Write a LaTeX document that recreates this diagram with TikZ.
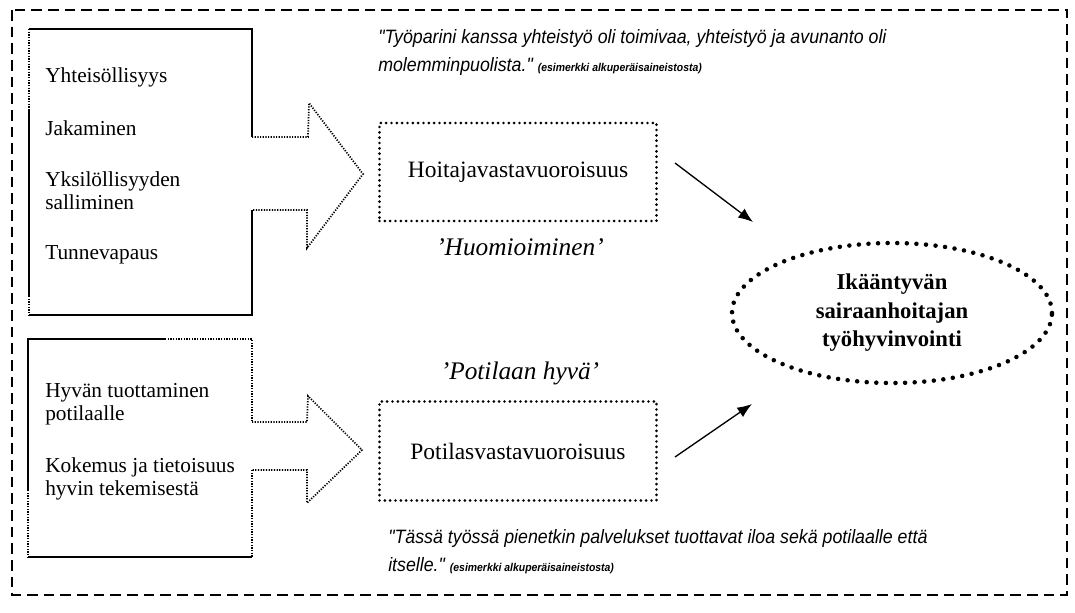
\documentclass[tikz,border=0pt]{standalone}
\usepackage{fontspec}
\setmainfont{Liberation Serif}
\newfontfamily\quotefont[FakeStretch=0.92]{Liberation Sans}
\usetikzlibrary{arrows.meta,shapes.geometric}

\tikzset{
  solidline/.style={line width=1.1pt},
  fineline/.style={line width=1.3pt, dash pattern=on 0.9pt off 1.1pt},
  frameline/.style={line width=1.9pt, dash pattern=on 8pt off 4.5pt},
  dotbox/.style={draw, rectangle, line width=2.2pt, line cap=round, dash pattern=on 0pt off 4pt,
    minimum width=207.75pt, minimum height=73.5pt, inner sep=0pt, font=\fontsize{17.6}{20}\selectfont},
  goal/.style={draw, ellipse, line width=3.4pt, line cap=round, dash pattern=on 0pt off 7.2pt,
    minimum width=240pt, minimum height=105pt, inner sep=0pt, align=center,
    font=\bfseries\fontsize{17}{21.4}\selectfont},
  item/.style={anchor=west, inner sep=0pt, align=left, font=\fontsize{16}{17.5}\selectfont},
  theme/.style={inner sep=0pt, font=\itshape\fontsize{19}{21}\selectfont},
  citation/.style={anchor=north west, inner sep=0pt, align=left, font=\quotefont\itshape\fontsize{14.5}{21}\selectfont},
  pointer/.style={line width=1pt, -{Latex[length=11pt,width=8.5pt]}},
}
\newcommand{\srcnote}{{\bfseries\fontsize{8.5}{10}\selectfont (esimerkki alkuperäisaineistosta)}}

\begin{document}
\begin{tikzpicture}[x=0.75pt,y=0.75pt,yscale=-1,xscale=1]
        \path[use as bounding box] (0,0) rectangle (1075,612);

        %Dashed frame
        \draw [frameline]    (12,10) rectangle (1067,595) ;

        %Upper list box
        \draw [solidline]    (29,29) -- (252,29) -- (252,137) ;
        \draw [solidline]    (252,210) -- (252,315) -- (29,315) ;
        \draw [solidline]    (29,110) -- (29,296) ;
        \draw [fineline]    (29,29) -- (29,110) (29,296) -- (29,315) ;
        %Upper block arrow
        \draw [fineline]    (252,137) -- (308,137) -- (309,103) -- (363,174) -- (307,248) -- (307,210) -- (252,210) ;

        %Lower list box
        \draw [solidline]    (28,490) -- (28,339) -- (165,339) ;
        \draw [solidline]    (28,557) -- (252,557) ;
        \draw [fineline]    (165,339) -- (252,339) -- (252,422) (252,470) -- (252,557) (28,490) -- (28,557) ;
        %Lower block arrow
        \draw [fineline]    (252,422) -- (307,422) -- (308,396) -- (362,450) -- (307,503) -- (307,470) -- (252,470) ;

        % Text Node
        \draw (45,77) node [item] (yhteis) {Yhteisöllisyys};
        % Text Node
        \draw (45,128) node [item] (jakam) {Jakaminen};
        % Text Node
        \draw (45,191) node [item] (yksil) {Yksilöllisyyden\\salliminen};
        % Text Node
        \draw (45,255) node [item] (tunne) {Tunnevapaus};
        % Text Node
        \draw (45,404) node [item] (hyvan) {Hyvän tuottaminen\\potilaalle};
        % Text Node
        \draw (45,479) node [item] (kokem) {Kokemus ja tietoisuus\\hyvin tekemisestä};

        %Middle boxes
        \draw (518,172) node [dotbox] (hoitaja) {Hoitajavastavuoroisuus};
        \draw (518,451) node [dotbox, minimum height=74.25pt] (potilas) {Potilasvastavuoroisuus};
        % Text Node
        \draw (520,247) node [theme] (huomio) {'Huomioiminen'};
        % Text Node
        \draw (520,373) node [theme] (hyva) {'Potilaan hyvä'};

        %Goal ellipse
        \draw (892,313) node [goal] (tyohyv) {Ikääntyvän\\sairaanhoitajan\\työhyvinvointi};

        %Arrows to goal
        \coordinate (hoitajaout) at (675,163);
        \coordinate (tyohyvin1) at (753,222);
        \coordinate (potilasout) at (675,457);
        \coordinate (tyohyvin2) at (752,404);
        \draw [pointer]    (hoitajaout) -- (tyohyvin1) ;
        \draw [pointer]    (potilasout) -- (tyohyvin2) ;

        % Text Node
        \draw (378,29) node [citation] (quoteup) {"Työparini kanssa yhteistyö oli toimivaa, yhteistyö ja avunanto oli\\molemminpuolista." \srcnote};
        % Text Node
        \draw (388,529) node [citation] (quotedown) {"Tässä työssä pienetkin palvelukset tuottavat iloa sekä potilaalle että\\itselle." \srcnote};

\end{tikzpicture}
\end{document}
